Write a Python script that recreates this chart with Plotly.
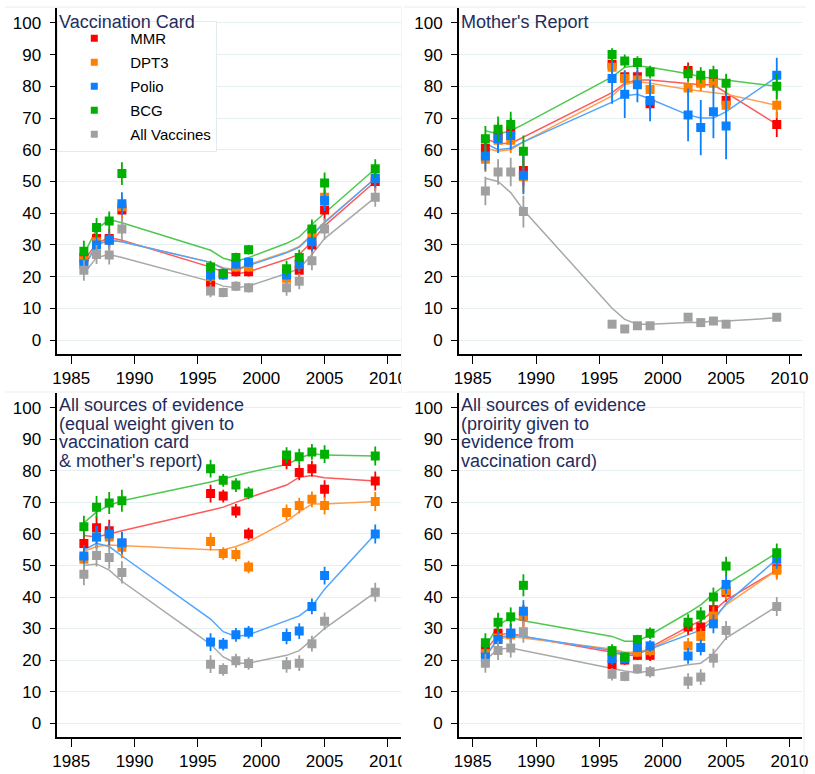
import plotly.graph_objects as go

years = [1986, 1987, 1988, 1989, 1996, 1997, 1998, 1999, 2002, 2003, 2004, 2005, 2009]
series_names = ["MMR", "DPT3", "Polio", "BCG", "All Vaccines"]

# ---- Panel 1: Vaccination Card ----
card_mmr = [26, 32, 32, 41, 18, 21, 21.5, 21.5, 21, 22, 30, 41, 50]
card_dpt3 = [25, 31, 31.5, 42, 20, 21, 23, 23, 19.5, 24, 33, 45, 51]
card_polio = [24, 30, 31.5, 43, 20.5, 20.5, 24, 24.5, 20.5, 24, 31, 44, 51]
card_bcg = [28, 35.5, 37.5, 52.5, 23, 21, 26, 28.5, 22.5, 26, 35, 49.5, 54]
card_all = [22, 27, 26.8, 35, 15.5, 15, 17, 16.5, 16.5, 18.5, 25, 35, 45]
card_err = [3.3, 3, 3, 3.6, 2, 1.5, 1.5, 1.5, 2.5, 2.5, 3, 3.3, 3]
card_mmr_fit = [25, 30.5, 32.3, 31.5, 23, 21.5, 20.8, 21.5, 25.5, 27, 31, 36, 50]
card_dpt3_fit = [23, 30, 31.5, 31, 24.5, 22.8, 22.2, 23.8, 27.8, 29.5, 33.3, 37.3, 51]
card_polio_fit = [23, 30, 31.5, 31, 24.5, 22.5, 22, 23.5, 27.5, 29.3, 33, 37, 51]
card_bcg_fit = [27, 35, 38, 37, 28.3, 25.8, 24.8, 26, 30.5, 32.5, 36.5, 40, 54]
card_all_fit = [21, 26, 27, 26, 18.5, 17, 16.5, 17, 21, 22.5, 27, 32, 45]

# ---- Panel 2: Mother's Report ----
mother_mmr = [60.5, 64.5, 66, 53.5, 87, 83, 83, 74.5, 85, 81.5, 82, 75.5, 68]
mother_dpt3 = [57, 63, 63, 51.5, 86, 82.5, 82, 79, 79.5, 81, 81, 74, 74]
mother_polio = [58, 63.5, 64.5, 52, 82.5, 77.5, 80.5, 75.5, 71, 67, 72, 67.5, 83.5]
mother_bcg = [63.5, 66.5, 68, 59.5, 90, 88, 87.5, 84.5, 84, 83.5, 84, 81, 80]
mother_all = [47, 53, 53, 40.5, 5, 3.5, 4.5, 4.5, 7.2, 5.5, 6, 5, 7.2]
mother_err = [4, 4, 4, 5, 2, 2, 2, 2, 2.5, 2.5, 2.5, 3, 4]
mother_polio_err = [4.5, 4.5, 4.5, 6, 8, 7.5, 5.5, 6.5, 8.3, 8.7, 8.4, 10.5, 5.5]
mother_all_err = [4.5, 4, 4.5, 5, 1, 1, 1, 1, 1, 1, 1, 1, 1]
mother_mmr_fit = [63.5, 62, 62, 64, 78, 81, 82, 82, 81, 80.5, 80.5, 78, 68]
mother_dpt3_fit = [60.5, 59.5, 60, 62.5, 77, 80.5, 81.5, 81, 79, 78.5, 78, 77.5, 74]
mother_polio_fit = [62, 60, 60.5, 62.5, 75, 77, 77.5, 76, 71, 70, 70, 72, 83]
mother_bcg_fit = [66, 65, 66, 68, 83, 86, 86.5, 86, 84, 83, 82.5, 82, 80]
mother_all_fit = [51, 50, 46.5, 41, 10, 6.5, 5, 5, 5.5, 5.5, 6, 6, 7]

# ---- Panel 3: All sources, equal weight ----
equal_mmr = [57, 62, 61, 57, 72.8, 72, 67.3, 60, 83, 79.5, 80.7, 74.2, 76.8]
equal_dpt3 = [52, 59, 59, 55.8, 57.6, 53.8, 53.5, 49.5, 66.8, 69, 71, 69, 70.3]
equal_polio = [53, 59, 60, 57.2, 25.7, 25, 28, 28.8, 27.5, 29.2, 37, 46.8, 60]
equal_bcg = [62.3, 68.5, 69.8, 70.5, 80.7, 77, 75.5, 73, 85, 84.5, 86, 85.3, 84.7]
equal_all = [47.2, 53.2, 52.5, 47.8, 18.7, 17, 19.8, 18.9, 18.5, 19, 25.2, 32.3, 41.5]
equal_err = [3.5, 3.5, 3.5, 3.5, 2.8, 2, 2.2, 2, 2.5, 2.5, 2.5, 2.8, 3]
equal_mmr_fit = [59.5, 59, 60, 61, 67.5, 68.5, 70, 71.5, 75.5, 78, 78.5, 77.8, 76.8]
equal_dpt3_fit = [54.5, 56, 56.5, 56.3, 55, 55, 56, 57.5, 64, 67, 69.5, 69.5, 70.3]
equal_polio_fit = [55, 57, 56, 53, 33, 29, 27.5, 28, 32.5, 34, 37, 42.5, 60]
equal_bcg_fit = [63.5, 67, 69, 70.5, 76.5, 77.5, 78.5, 79.5, 82, 84, 85.5, 85, 84.7]
equal_all_fit = [50, 50.5, 48.5, 45, 25, 21, 19, 19, 21.5, 23, 26.5, 30, 41.5]

# ---- Panel 4: All sources, priority to card ----
prio_mmr = [23.3, 28.5, 28.5, 34, 18.5, 20, 21.5, 21.5, 30.5, 30.5, 36, 41.5, 49]
prio_dpt3 = [22, 27, 28, 34, 21, 20.5, 22.5, 23, 24.5, 27.5, 34, 42, 48.5]
prio_polio = [21, 26.5, 28.5, 35.5, 20.5, 20.5, 24, 24.5, 21.3, 24, 31.5, 44, 52]
prio_bcg = [25.5, 32, 33.7, 43.7, 23, 21, 26.5, 28.5, 32, 34.3, 40, 49.8, 54]
prio_all = [19, 23, 23.8, 29, 15.5, 14.8, 17.2, 16.3, 13.3, 14.6, 20.6, 29.4, 37]
prio_err = [3, 3, 3, 3.5, 2, 1.5, 1.5, 1.8, 2.5, 2.5, 3, 3, 3]
prio_mmr_fit = [23, 28, 28.5, 27.5, 22.5, 21.5, 21.5, 24, 30.5, 32.5, 35.5, 39, 48.5]
prio_dpt3_fit = [21, 26.5, 27.5, 27, 23.5, 22.5, 22.5, 23.5, 29.5, 30.5, 33.5, 37.5, 48.5]
prio_polio_fit = [21, 27, 28, 27.5, 23, 22, 22, 23.5, 28, 29.5, 32.5, 38, 52]
prio_bcg_fit = [24, 31, 33.5, 32.5, 27.5, 26, 26, 28, 35, 37.5, 41, 44, 54]
prio_all_fit = [20, 23.5, 23.8, 23, 17.5, 16.5, 16, 16.5, 18.5, 19, 22, 27, 37]

panel_titles = [
    ["Vaccination Card"],
    ["Mother's Report"],
    ["All sources of evidence", "(equal weight given to", "vaccination card", "& mother's report)"],
    ["All sources of evidence", "(proirity given to", "evidence from", "vaccination card)"],
]

x_ticks = [1985, 1990, 1995, 2000, 2005, 2010]
y_ticks = [0, 10, 20, 30, 40, 50, 60, 70, 80, 90, 100]

marker_colors = ["#ff0000", "#ff8000", "#0a80ff", "#00b000", "#a0a0a0"]
line_colors = ["#ff5a5a", "#ffa050", "#50a5ff", "#50c850", "#a8a8a8"]

panels = [
    dict(vals=[card_mmr, card_dpt3, card_polio, card_bcg, card_all],
         errs=[card_err, card_err, card_err, card_err, card_err],
         fits=[card_mmr_fit, card_dpt3_fit, card_polio_fit, card_bcg_fit, card_all_fit]),
    dict(vals=[mother_mmr, mother_dpt3, mother_polio, mother_bcg, mother_all],
         errs=[mother_err, mother_err, mother_polio_err, mother_err, mother_all_err],
         fits=[mother_mmr_fit, mother_dpt3_fit, mother_polio_fit, mother_bcg_fit, mother_all_fit]),
    dict(vals=[equal_mmr, equal_dpt3, equal_polio, equal_bcg, equal_all],
         errs=[equal_err] * 5,
         fits=[equal_mmr_fit, equal_dpt3_fit, equal_polio_fit, equal_bcg_fit, equal_all_fit]),
    dict(vals=[prio_mmr, prio_dpt3, prio_polio, prio_bcg, prio_all],
         errs=[prio_err] * 5,
         fits=[prio_mmr_fit, prio_dpt3_fit, prio_polio_fit, prio_bcg_fit, prio_all_fit]),
]

W, H = 815, 774
x_domains = [(53 / W, 401 / W), (460 / W, 808 / W), (53 / W, 401 / W), (460 / W, 808 / W)]
y_domains = [(1 - 354 / H, 1 - 8 / H), (1 - 354 / H, 1 - 8 / H),
             (1 - 737 / H, 1 - 393 / H), (1 - 737 / H, 1 - 393 / H)]

fig = go.Figure()

for p, panel in enumerate(panels):
    sfx = "" if p == 0 else str(p + 1)
    xa, ya = "x" + sfx, "y" + sfx
    # fitted lines
    for s in range(5):
        fig.add_trace(go.Scatter(
            x=years, y=panel["fits"][s], mode="lines", xaxis=xa, yaxis=ya,
            line=dict(color=line_colors[s], width=1.5), showlegend=False,
            hoverinfo="skip"))
    # markers with error bars
    for s in range(5):
        fig.add_trace(go.Scatter(
            x=years, y=panel["vals"][s], mode="markers", xaxis=xa, yaxis=ya,
            name=series_names[s], legendgroup=series_names[s],
            showlegend=False,
            marker=dict(symbol="square", size=9, color=marker_colors[s]),
            error_y=dict(type="data", array=panel["errs"][s], visible=True,
                         color=marker_colors[s], thickness=1.8, width=0)))

# legend-only entries (smaller symbols, like the reference key)
for s in range(5):
    fig.add_trace(go.Scatter(
        x=[None], y=[None], mode="markers", name=series_names[s],
        legendgroup=series_names[s], showlegend=True,
        marker=dict(symbol="square", size=7, color=marker_colors[s])))

layout_axes = {}
for p in range(4):
    sfx = "" if p == 0 else str(p + 1)
    layout_axes["xaxis" + sfx] = dict(
        domain=list(x_domains[p]), range=[1983.9, 2011.0], anchor="y" + sfx,
        tickvals=x_ticks, ticktext=[str(t) for t in x_ticks],
        ticks="outside", ticklen=8, tickwidth=1.3, tickcolor="#000",
        showline=True, linecolor="#000", linewidth=1.5, showgrid=False,
        zeroline=False, tickfont=dict(family="Liberation Sans, Arial", size=17, color="#000"))
    layout_axes["yaxis" + sfx] = dict(
        domain=list(y_domains[p]), range=[-4.4, 104.7], anchor="x" + sfx,
        tickvals=y_ticks, ticktext=[str(t) for t in y_ticks],
        ticks="outside", ticklen=6, tickwidth=1.3, tickcolor="#000",
        showline=True, linecolor="#000", linewidth=1.5,
        showgrid=True, gridcolor="#e6eff0", gridwidth=1,
        zeroline=False, ticklabelstandoff=5,
        tickfont=dict(family="Liberation Sans, Arial", size=17, color="#000"))

annotations = []
title_pos = [(53, 28), (460, 28), (53, 411), (460, 411)]
for p, lines in enumerate(panel_titles):
    x0, base = title_pos[p]
    for i, txt in enumerate(lines):
        b = base + i * 18.7
        annotations.append(dict(
            text=txt, xref="paper", yref="paper", x=x0 / W, y=1 - (b - 6) / H,
            xanchor="left", yanchor="middle", showarrow=False,
            font=dict(family="Liberation Sans, Arial", size=18, color="#1f2d5c")))

# faint graph-region frames and the clipped right edge of the left panels
frame = "#e4eef0"
shapes = [
    dict(type="line", xref="paper", yref="paper", x0=0, x1=402 / W, y0=1 - 7 / H, y1=1 - 7 / H,
         line=dict(color=frame, width=1)),
    dict(type="line", xref="paper", yref="paper", x0=404 / W, x1=812 / W, y0=1 - 7 / H, y1=1 - 7 / H,
         line=dict(color=frame, width=1)),
    dict(type="line", xref="paper", yref="paper", x0=0, x1=402 / W, y0=1 - 392 / H, y1=1 - 392 / H,
         line=dict(color=frame, width=1)),
    dict(type="line", xref="paper", yref="paper", x0=404 / W, x1=812 / W, y0=1 - 392 / H, y1=1 - 392 / H,
         line=dict(color=frame, width=1)),
    dict(type="rect", xref="paper", yref="paper", x0=402 / W, x1=408 / W, y0=1 - 392 / H, y1=1 - 362 / H,
         fillcolor="white", line=dict(width=0), layer="above"),
    dict(type="rect", xref="paper", yref="paper", x0=402 / W, x1=408 / W, y0=0, y1=1 - 746 / H,
         fillcolor="white", line=dict(width=0), layer="above"),
    dict(type="line", xref="paper", yref="paper", x0=402 / W, x1=402 / W, y0=1 - 392 / H, y1=1 - 7 / H,
         line=dict(color="#f0f5f6", width=1)),
    dict(type="line", xref="paper", yref="paper", x0=810 / W, x1=810 / W, y0=0, y1=1 - 392 / H,
         line=dict(color=frame, width=1)),
]

fig.update_layout(
    width=W, height=H, margin=dict(l=0, r=0, t=0, b=0),
    paper_bgcolor="white", plot_bgcolor="white",
    showlegend=True,
    legend=dict(x=53 / W, y=1 - 21 / H, xanchor="left", yanchor="top",
                bgcolor="white", bordercolor="#e0ecf0", borderwidth=1,
                font=dict(family="Liberation Sans, Arial", size=15, color="#000"),
                itemwidth=62, tracegroupgap=1.5, traceorder="grouped",
                itemsizing="trace"),
    annotations=annotations,
    shapes=shapes,
    **layout_axes,
)

fig.write_html("out.html")
